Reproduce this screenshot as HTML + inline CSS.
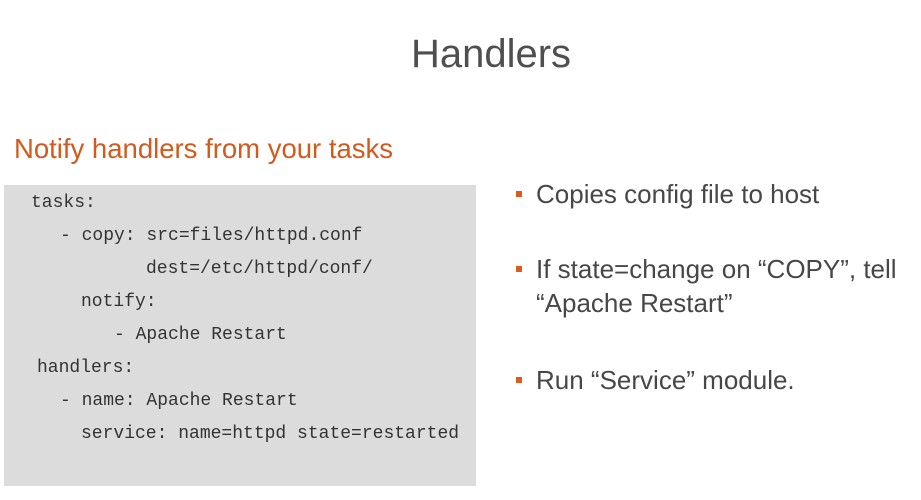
<!DOCTYPE html>
<html><head><style>
body{margin:0;width:921px;height:500px;background:#fff;position:relative;overflow:hidden;font-family:"Liberation Sans",sans-serif}
.a{position:absolute;white-space:nowrap}
#t{left:0;width:982px;text-align:center;top:30px;font-size:40px;color:#4f4f4f;line-height:48px}
#s{left:14px;top:133px;font-size:27.5px;color:#d35a1c;line-height:32px}
#box{position:absolute;left:4px;top:185px;width:472px;height:301px;background:#dcdcdc}
.c{font-family:"Liberation Mono",monospace;font-size:18px;color:#333;line-height:22px}
.b{font-size:26px;color:#474747;line-height:34px}
.sq{position:absolute;width:6px;height:6px;background:#e05a1c}
</style></head><body>
<div class="a" id="t">Handlers</div>
<div class="a" id="s">Notify handlers from your tasks</div>
<div id="box"></div>
<div class="a c" style="left:31px;top:192px">tasks:</div>
<div class="a c" style="left:60px;top:225px">- copy: src=files/httpd.conf</div>
<div class="a c" style="left:146px;top:258px">dest=/etc/httpd/conf/</div>
<div class="a c" style="left:81px;top:291px">notify:</div>
<div class="a c" style="left:114px;top:324px">- Apache Restart</div>
<div class="a c" style="left:37px;top:357px">handlers:</div>
<div class="a c" style="left:60px;top:390px">- name: Apache Restart</div>
<div class="a c" style="left:81px;top:423px">service: name=httpd state=restarted</div>
<div class="sq" style="left:516px;top:191px"></div>
<div class="a b" style="left:536px;top:177px">Copies config file to host</div>
<div class="sq" style="left:516px;top:266px"></div>
<div class="a b" style="left:536px;top:252px">If state=change on “COPY”, tell</div>
<div class="a b" style="left:536px;top:286px">“Apache Restart”</div>
<div class="sq" style="left:516px;top:377px"></div>
<div class="a b" style="left:536px;top:363px">Run “Service” module.</div>
</body></html>
